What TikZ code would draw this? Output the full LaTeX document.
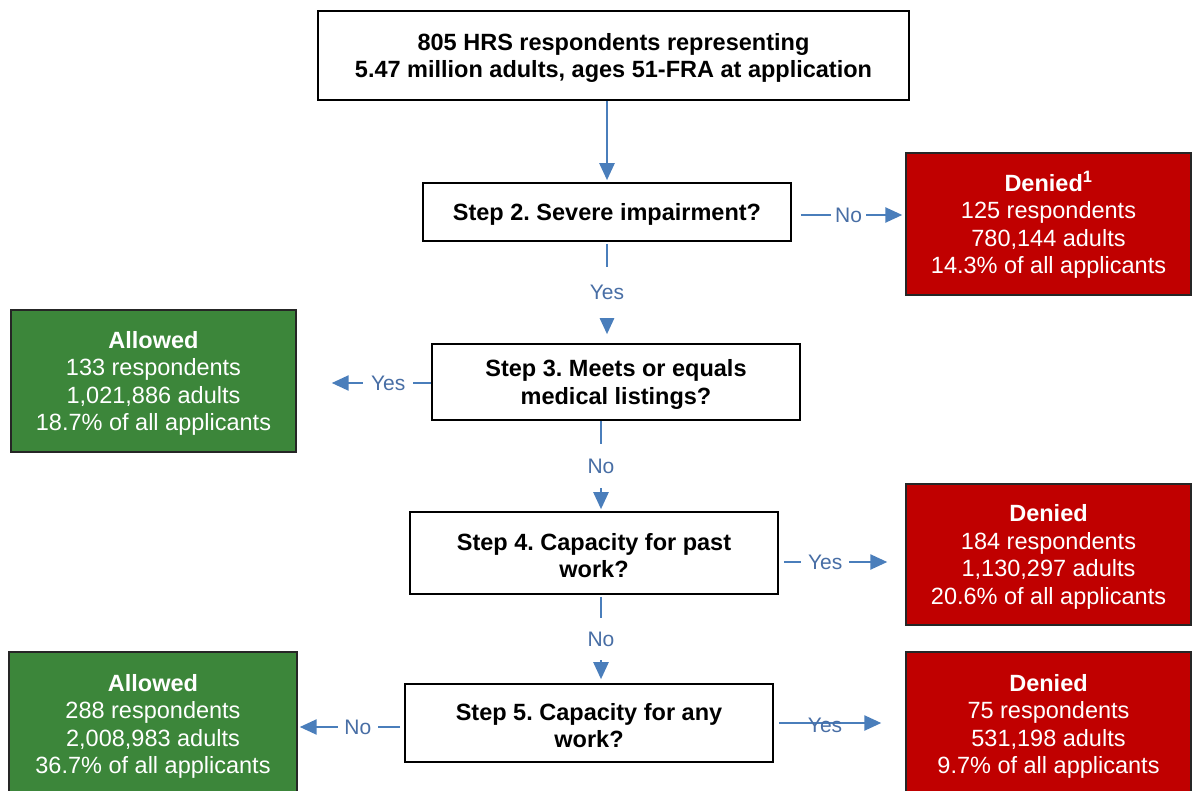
\documentclass[tikz,border=0pt]{standalone}
\usepackage{fontspec}
\setmainfont{Liberation Sans}
\usetikzlibrary{arrows.meta,calc}
\definecolor{arrowblue}{RGB}{74,126,187}
\definecolor{labelblue}{RGB}{72,110,165}
\definecolor{denyred}{RGB}{192,0,0}
\definecolor{allowgreen}{RGB}{60,134,58}
\newcommand\tstrut{\rule{0pt}{22pt}}
\frenchspacing
\begin{document}
\begin{tikzpicture}[x=1pt,y=-1pt,
 boxfont/.style={font=\fontsize{23.5}{27.5}\selectfont},
 stepbox/.style={draw=black,line width=1.6pt,fill=white,align=center,inner sep=0pt,boxfont},
 outbox/.style={draw=black!85,line width=1.4pt,align=center,inner sep=0pt,text=white,boxfont,minimum width=285pt},
 denybox/.style={outbox,fill=denyred},
 allowbox/.style={outbox,fill=allowgreen},
 flow/.style={draw=arrowblue,line width=2.4pt,-{Triangle[length=17pt,width=15pt]}},
 lbl/.style={fill=white,text=labelblue,font=\fontsize{21}{24}\selectfont,inner xsep=7pt,inner ysep=1pt},
 vlbl/.style={fill=white,text=labelblue,font=\fontsize{21}{24}\selectfont,inner xsep=2pt,inner ysep=14pt},
]
\useasboundingbox (0,0) rectangle (1193,791);

% boxes
\node[stepbox,minimum width=591pt,minimum height=89pt] (top) at (613.5,55.5)
  {\tstrut\textbf{805 HRS respondents representing}\\\textbf{5.47 million adults, ages 51-FRA at application}};
\node[stepbox,minimum width=368pt,minimum height=58pt] (s2) at (607,212)
  {\tstrut\textbf{Step 2. Severe impairment?}};
\node[stepbox,minimum width=368pt,minimum height=76pt] (s3) at (616,382)
  {\tstrut\textbf{Step 3. Meets or equals}\\\textbf{medical listings?}};
\node[stepbox,minimum width=368pt,minimum height=82pt] (s4) at (594,553)
  {\tstrut\textbf{Step 4. Capacity for past}\\\textbf{work?}};
\node[stepbox,minimum width=368pt,minimum height=78pt] (s5) at (589,723)
  {\tstrut\textbf{Step 5. Capacity for any}\\\textbf{work?}};

\node[denybox,minimum height=142pt] (d1) at (1048.5,224)
  {\tstrut\textbf{Denied\textsuperscript{1}}\\125 respondents\\780,144 adults\\14.3\% of all applicants};
\node[allowbox,minimum height=142pt] (a1) at (153.5,381)
  {\tstrut\textbf{Allowed}\\133 respondents\\1,021,886 adults\\18.7\% of all applicants};
\node[denybox,minimum height=141pt] (d2) at (1048.5,554.5)
  {\tstrut\textbf{Denied}\\184 respondents\\1,130,297 adults\\20.6\% of all applicants};
\node[allowbox,minimum width=288pt,minimum height=144pt] (a2) at (153,724)
  {\tstrut\textbf{Allowed}\\288 respondents\\2,008,983 adults\\36.7\% of all applicants};
\node[denybox,minimum height=144pt] (d3) at (1048.5,724)
  {\tstrut\textbf{Denied}\\75 respondents\\531,198 adults\\9.7\% of all applicants};

% vertical connectors
\draw[flow,shorten >=2pt] (top.south -| s2.north) -- (s2.north);
\draw[flow,shorten <=2pt,shorten >=9pt] (s2.south) -- (s2.south |- s3.north)
  node[midway,vlbl,inner ysep=18pt] {Yes};
\draw[flow,shorten >=2pt] ([xshift=-15pt]s3.south) -- ([xshift=-15pt]s3.south |- s4.north)
  node[midway,vlbl,inner ysep=15pt] {No};
\draw[flow,shorten <=2pt,shorten >=4pt] ([xshift=7pt]s4.south) -- ([xshift=7pt]s4.south |- s5.north)
  node[midway,vlbl,inner ysep=14pt] {No};

% horizontal connectors
\draw[flow,shorten <=9pt,shorten >=3pt] ([yshift=-3pt]s2.east) -- ([yshift=-3pt]s2.east -| d1.west)
  node[midway,lbl,inner xsep=4pt] {No};
\draw[flow,shorten >=35pt] ([yshift=-1pt]s3.west) -- ([yshift=-1pt]s3.west -| a1.east)
  node[pos=0.32,lbl,inner xsep=8pt] {Yes};
\draw[flow,shorten <=5pt,shorten >=18pt] ([yshift=-9pt]s4.east) -- ([yshift=-9pt]s4.east -| d2.west)
  node[pos=0.367,lbl,inner xsep=7pt] {Yes};
\draw[flow,shorten <=4pt,shorten >=2pt] ([yshift=-4pt]s5.west) -- ([yshift=-4pt]s5.west -| a2.east)
  node[pos=0.435,lbl,inner xsep=6.5pt] {No};
\draw[flow,shorten <=5pt,shorten >=24pt] (s5.east) -- (s5.east -| d3.west)
  node[pos=0.39,text=labelblue,font=\fontsize{21}{24}\selectfont,inner sep=0pt,yshift=-2pt] {Yes};
\end{tikzpicture}
\end{document}
